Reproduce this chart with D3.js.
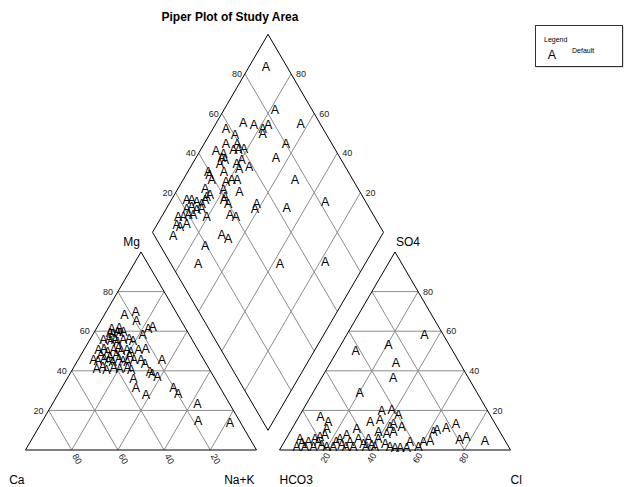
<!DOCTYPE html>
<html>
<head>
<meta charset="utf-8">
<script src="https://cdn.jsdelivr.net/npm/d3@7"></script>
<style>
  body { margin: 0; background: #fff; }
  svg { display: block; font-family: Arial, "Liberation Sans", sans-serif; }
</style>
</head>
<body>
<div id="main"></div>
<script>
// cation triangle samples: [Mg %, Na+K %]  (Ca = rest)
const cations = [
  [68.2, 8.7], [69.8, 12.8], [65.3, 15.4], [61.1, 22.6], [62.1, 24.0], [58.1, 21.7],
  [45.5, 36.3], [45.5, 27.2], [43.8, 29.8], [39.5, 34.1], [38.4, 35.6], [37.0, 38.6],
  [36.2, 28.6], [31.7, 32.0], [28.1, 38.1], [31.7, 48.2], [28.6, 51.8], [23.2, 62.8],
  [14.8, 67.4], [13.8, 81.6],
  [61.5, 6.6], [62.0, 9.5],
  [59.4, 6.9], [58.8, 8.3], [59.9, 9.8], [59.1, 11.2], [59.6, 12.6],
  [55.6, 5.9], [56.2, 8.0], [55.0, 9.5], [55.9, 10.9], [54.8, 12.4], [55.6, 14.5], [56.4, 16.7], [55.3, 18.9],
  [50.5, 6.3], [51.2, 8.4], [49.9, 10.6], [50.8, 12.8], [51.5, 14.5], [50.1, 16.4], [50.7, 18.6], [49.6, 20.7], [50.5, 23.6], [51.0, 26.5],
  [48.0, 8.6], [47.4, 12.9], [48.3, 15.2], [47.7, 21.2],
  [45.5, 6.7], [45.0, 8.8], [46.1, 11.0], [45.3, 13.1], [44.8, 15.3], [45.9, 17.5], [45.2, 19.6], [44.6, 21.8], [45.8, 24.0],
  [41.3, 10.2], [42.0, 12.4], [40.8, 14.6], [41.6, 17.4], [41.0, 20.3], [41.8, 23.2], [40.6, 25.4]
];

// anion triangle samples: [SO4 %, Cl %]  (HCO3 = rest)
const anions = [
  [58.1, 33.7], [53.4, 20.4], [50.0, 8.0], [44.1, 28.3], [36.5, 31.0], [28.9, 20.3],
  [16.7, 9.4], [14.4, 13.9], [10.6, 15.1], [7.6, 15.9], [19.7, 34.4], [20.2, 38.5],
  [17.7, 42.6], [14.3, 32.1], [15.2, 35.9], [11.8, 41.9], [11.8, 47.0], [9.2, 38.2],
  [8.4, 42.2], [11.0, 27.9], [13.1, 69.8], [11.5, 66.4], [10.5, 62.9], [9.2, 62.0],
  [6.7, 77.6], [5.1, 75.3], [4.5, 86.7], [4.7, 62.9], [4.2, 60.2], [1.7, 59.3],
  [4.2, 54.4], [1.4, 54.4], [1.4, 51.5], [1.4, 49.3], [13.5, 42.6], [9.2, 44.7],
  [5.9, 5.9], [1.7, 6.6], [1.7, 10.2], [4.2, 10.4], [5.9, 12.4], [1.7, 13.8],
  [6.7, 14.2], [2.5, 17.0], [1.7, 19.6], [1.7, 22.4], [5.9, 23.2], [2.5, 25.7],
  [7.6, 25.3], [4.2, 28.4], [1.7, 31.1], [5.9, 31.2], [3.4, 34.6], [5.9, 35.5],
  [2.5, 38.7], [1.7, 40.5], [5.9, 39.8], [3.4, 44.0], [1.7, 47.0],
  [3.5, 8.0], [4.0, 14.7], [4.0, 22.5], [1.5, 28.0], [1.5, 36.7]
];

// diamond samples: [Ca+Mg %, SO4+Cl %]
const diamond = [
  [92.7, 91.0], [78.0, 84.1], [88.4, 67.0], [94.5, 58.1], [83.2, 71.0], [78.6, 74.0],
  [77.3, 72.7], [77.0, 77.2], [63.4, 91.7], [64.7, 80.3], [88.9, 60.3], [90.5, 54.1],
  [85.6, 59.0], [81.6, 60.8], [85.8, 55.8], [83.7, 58.0], [93.1, 48.1], [89.3, 50.6],
  [65.3, 72.2], [88.8, 48.7], [86.9, 49.7], [88.2, 46.6], [81.0, 53.9], [79.7, 56.9],
  [78.6, 53.7], [74.7, 58.5], [51.7, 75.1], [91.2, 39.5], [89.9, 39.1], [87.6, 38.9],
  [84.4, 46.3], [81.0, 44.6], [78.9, 47.5], [76.5, 49.9], [72.7, 47.9], [88.4, 33.9],
  [85.6, 32.5], [84.5, 34.3], [80.1, 41.4], [77.6, 40.4], [77.2, 39.1], [74.5, 40.1],
  [62.2, 52.4], [61.5, 50.2], [48.2, 64.4], [33.1, 82.5], [93.4, 23.0], [91.2, 25.1],
  [88.6, 26.9], [86.0, 28.6], [85.4, 30.9], [91.3, 20.9], [89.5, 23.4], [86.5, 24.8],
  [84.8, 27.4], [90.6, 17.3], [88.9, 19.9], [86.7, 22.0], [92.8, 15.1], [91.4, 12.4],
  [89.5, 13.3], [87.5, 17.1], [90.1, 8.1], [80.5, 27.4], [70.8, 37.9], [67.8, 40.1],
  [69.4, 29.3], [65.7, 31.3], [73.8, 19.3], [72.2, 11.8], [37.0, 47.4], [17.9, 67.3]
];

const ticks = [20, 40, 60, 80];
const title = 'Piper Plot of Study Area';
const marker = 'A';
const legendTitle = 'Legend';
const legendLabel = 'Default';

const width = 624, height = 487;
const x0 = 25.5, side = 231, gap = 23, tri = 198, base = 450;
const x1 = x0 + side + gap;

const svg = d3.select('#main').append('svg')
  .attr('width', width)
  .attr('height', height);

// scales
const cx = d3.scaleLinear().domain([0, 100]).range([x0, x0 + side]);
const ax = d3.scaleLinear().domain([0, 100]).range([x1, x1 + side]);
const ty = d3.scaleLinear().domain([0, 100]).range([base, base - tri]);
const dx = d3.scaleLinear().domain([-100, 100]).range([-side / 2, side / 2]);
const dy = d3.scaleLinear().domain([0, 100]).range([0, tri]);

const bx = x0 + side + gap / 2;
const by = base - tri * gap / side;

// position helpers
const catPos = (mg, nak) => [cx(nak + mg / 2), ty(mg)];
const anPos = (so4, cl) => [ax(cl + so4 / 2), ty(so4)];
const diaPos = (camg, so4cl) => [bx + dx(so4cl - camg), by - dy(camg + so4cl)];

const line = d3.line();
const gridColor = '#8c8c8c';

function seg(g, p, q) {
  g.append('path')
    .attr('d', line([p, q]))
    .attr('fill', 'none')
    .attr('stroke', gridColor)
    .attr('stroke-width', 1);
}

const grid = svg.append('g');
ticks.forEach(t => {
  // cation triangle
  seg(grid, catPos(t, 0), catPos(t, 100 - t));
  seg(grid, catPos(0, t), catPos(100 - t, t));
  seg(grid, catPos(0, 100 - t), catPos(100 - t, 0));
  // anion triangle
  seg(grid, anPos(t, 0), anPos(t, 100 - t));
  seg(grid, anPos(0, t), anPos(100 - t, t));
  seg(grid, anPos(0, 100 - t), anPos(100 - t, 0));
  // diamond
  seg(grid, diaPos(t, 0), diaPos(t, 100));
  seg(grid, diaPos(0, t), diaPos(100, t));
});

// outlines
const outline = svg.append('g')
  .attr('fill', 'none')
  .attr('stroke', '#000')
  .attr('stroke-width', 1);
outline.append('path').attr('d', line([catPos(0, 0), catPos(0, 100), catPos(100, 0)]) + 'Z');
outline.append('path').attr('d', line([anPos(0, 0), anPos(0, 100), anPos(100, 0)]) + 'Z');
outline.append('path').attr('d', line([diaPos(0, 0), diaPos(100, 0), diaPos(100, 100), diaPos(0, 100)]) + 'Z');

// tick labels
const tl = svg.append('g')
  .attr('font-size', '9px')
  .attr('fill', '#222');
ticks.forEach(t => {
  let p = catPos(t, 0);
  tl.append('text').attr('x', p[0] - 5).attr('y', p[1]).attr('dy', '0.35em')
    .attr('text-anchor', 'end').text(t);
  p = anPos(t, 100 - t);
  tl.append('text').attr('x', p[0] + 5).attr('y', p[1]).attr('dy', '0.35em')
    .attr('text-anchor', 'start').text(t);
  // cation bottom (Ca)
  p = catPos(0, 100 - t);
  tl.append('text')
    .attr('transform', `translate(${p[0] + 3},${p[1] + 4.5}) rotate(60)`)
    .attr('dy', '0.35em').attr('text-anchor', 'start').text(t);
  // anion bottom (Cl)
  p = anPos(0, t);
  tl.append('text')
    .attr('transform', `translate(${p[0] + 2},${p[1] + 3.5}) rotate(-60)`)
    .attr('dy', '0.35em').attr('text-anchor', 'end').text(t);
  // diamond upper-left (SO4+Cl)
  p = diaPos(100, t);
  tl.append('text').attr('x', p[0] - 3).attr('y', p[1]).attr('dy', '0.35em')
    .attr('text-anchor', 'end').text(t);
  // diamond upper-right (Ca+Mg)
  p = diaPos(t, 100);
  tl.append('text').attr('x', p[0] + 5).attr('y', p[1]).attr('dy', '0.35em')
    .attr('text-anchor', 'start').text(t);
});

// corner labels
const cl = svg.append('g').attr('font-size', '12px').attr('fill', '#000');
let apex = catPos(100, 0);
cl.append('text').attr('x', apex[0] - 1).attr('y', apex[1] - 6).attr('text-anchor', 'end').text('Mg');
apex = anPos(100, 0);
cl.append('text').attr('x', apex[0] + 1).attr('y', apex[1] - 6).attr('text-anchor', 'start').text('SO4');
cl.append('text').attr('x', x0 - 1).attr('y', 484).attr('text-anchor', 'end').text('Ca');
cl.append('text').attr('x', x0 + side - 2).attr('y', 484).attr('text-anchor', 'end').text('Na+K');
cl.append('text').attr('x', x1).attr('y', 484).attr('text-anchor', 'start').text('HCO3');
cl.append('text').attr('x', x1 + side).attr('y', 484).attr('text-anchor', 'start').text('Cl');

// title
svg.append('text')
  .attr('x', 230).attr('y', 21)
  .attr('text-anchor', 'middle')
  .attr('font-size', '12px').attr('font-weight', 'bold')
  .text(title);

// markers
function drawMarkers(data, pos) {
  svg.append('g')
    .attr('font-size', '12.5px')
    .attr('text-anchor', 'middle')
    .selectAll('text')
    .data(data)
    .enter()
    .append('text')
    .attr('x', d => pos(d[0], d[1])[0])
    .attr('y', d => pos(d[0], d[1])[1])
    .attr('dy', '0.35em')
    .text(marker);
}
drawMarkers(cations, catPos);
drawMarkers(anions, anPos);
drawMarkers(diamond, diaPos);

// legend
const lg = svg.append('g');
lg.append('rect').attr('x', 536.5).attr('y', 26.5).attr('width', 87).attr('height', 41)
  .attr('fill', '#bbb');
lg.append('rect').attr('x', 535.5).attr('y', 25.5).attr('width', 87).attr('height', 41)
  .attr('fill', '#fff').attr('stroke', '#333');
lg.append('text').attr('x', 544).attr('y', 42).attr('font-size', '7px').text(legendTitle);
lg.append('text').attr('x', 552).attr('y', 55).attr('dy', '0.35em').attr('text-anchor', 'middle')
  .attr('font-size', '12.5px').text(marker);
lg.append('text').attr('x', 572).attr('y', 53).attr('font-size', '7px').text(legendLabel);
</script>
</body>
</html>
